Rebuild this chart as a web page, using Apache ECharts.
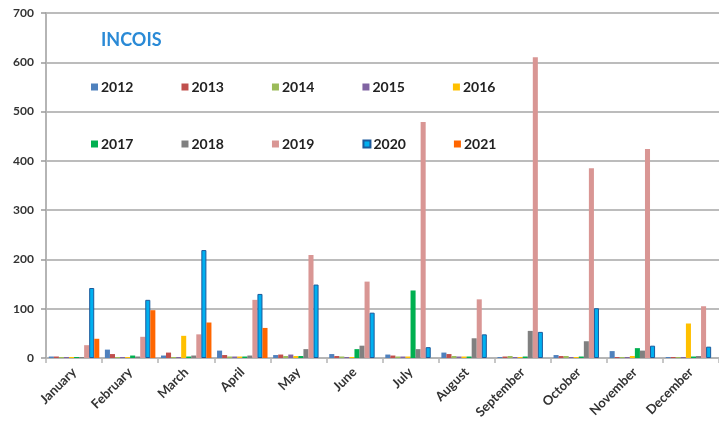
<!DOCTYPE html>
<html>
<head>
<meta charset="utf-8">
<script src="https://cdn.jsdelivr.net/npm/echarts@6/dist/echarts.min.js"></script>
<style>
  html, body { margin: 0; padding: 0; background: #ffffff; }
  #chart { width: 719px; height: 435px; }
</style>
</head>
<body>
<div id="chart"></div>
<script>
// Monthly counts per year
const months = ['January', 'February', 'March', 'April', 'May', 'June',
                'July', 'August', 'September', 'October', 'November', 'December'];
const years = ['2012', '2013', '2014', '2015', '2016', '2017', '2018', '2019', '2020', '2021'];

const y2012 = [3, 17, 5, 15, 6, 8, 7, 11, 2, 6, 14, 2];
const y2013 = [3, 8, 11, 6, 7, 4, 5, 8, 3, 4, 2, 2];
const y2014 = [2, 2, 2, 3, 4, 3, 3, 4, 4, 4, 2, 2];
const y2015 = [2, 2, 2, 3, 7, 2, 3, 3, 2, 2, 2, 2];
const y2016 = [2, 2, 45, 3, 4, 2, 3, 3, 2, 2, 4, 70];
const y2017 = [2, 5, 3, 3, 4, 18, 137, 3, 3, 3, 20, 3];
const y2018 = [2, 3, 5, 5, 18, 25, 18, 40, 55, 34, 15, 4];
const y2019 = [26, 43, 48, 118, 209, 155, 479, 119, 610, 385, 424, 105];
const y2020 = [142, 118, 219, 130, 149, 92, 22, 48, 53, 101, 25, 23];
const y2021 = [39, 97, 72, 61, null, null, null, null, null, null, null, null];

const yTicks = { min: 0, max: 700, interval: 100 };

const seriesValues = [y2012, y2013, y2014, y2015, y2016, y2017, y2018, y2019, y2020, y2021];
const colors = ['#4f81bd', '#c0504d', '#9bbb59', '#8064a2', '#ffc000',
                '#00b050', '#808080', '#d99694', '#00b0f0', '#ff6600'];

const FONT = 'Lato, "Open Sans", "Liberation Sans", sans-serif';

const series = years.map((y, i) => ({
  name: y,
  type: 'bar',
  data: seriesValues[i],
  barGap: '0%',
  barCategoryGap: '10%',
  itemStyle: i === 8
    ? { color: colors[i], borderColor: '#1c5a9c', borderWidth: 1 }
    : { color: colors[i] }
}));

const legendBase = {
  icon: 'rect',
  itemWidth: 7,
  itemHeight: 7,
  itemGap: 48,
  left: 86,
  selectedMode: false,
  textStyle: { fontFamily: FONT, fontWeight: 'bold', fontSize: 14, color: '#222', padding: [0, 0, 0, -2] }
};

const chart = echarts.init(document.getElementById('chart'), null, { renderer: 'canvas' });
chart.setOption({
  animation: false,
  backgroundColor: '#ffffff',
  color: colors,
  title: {
    text: 'INCOIS',
    left: 96,
    top: 26,
    textStyle: { fontFamily: FONT, fontWeight: 'bold', fontSize: 18, color: '#2a8ad6' }
  },
  legend: [
    Object.assign({}, legendBase, { data: years.slice(0, 5), top: 75 }),
    Object.assign({}, legendBase, { data: years.slice(5), top: 132 })
  ],
  grid: { left: 46, right: 0, top: 13, bottom: 77 },
  xAxis: {
    type: 'category',
    data: months,
    axisLine: { show: true, lineStyle: { color: '#b5b5b5', width: 2 } },
    axisTick: { show: true, alignWithLabel: false, length: 5, lineStyle: { color: '#b5b5b5', width: 1.5 } },
    axisLabel: {
      rotate: 45,
      margin: 12,
      interval: 0,
      fontFamily: FONT,
      fontWeight: 'bold',
      fontSize: 13,
      color: '#333'
    }
  },
  yAxis: {
    type: 'value',
    min: yTicks.min,
    max: yTicks.max,
    interval: yTicks.interval,
    axisLine: { show: true, lineStyle: { color: '#b5b5b5', width: 2 } },
    axisTick: { show: true, length: 5, lineStyle: { color: '#9a9a9a', width: 1.5 } },
    axisLabel: {
      margin: 12,
      fontFamily: FONT,
      fontWeight: 'bold',
      fontSize: 12,
      color: '#333',
      padding: [8, 0, 0, 0]
    },
    splitLine: { show: true, lineStyle: { color: '#bcbcbc', width: 2 } }
  },
  series: series
});
</script>
</body>
</html>
